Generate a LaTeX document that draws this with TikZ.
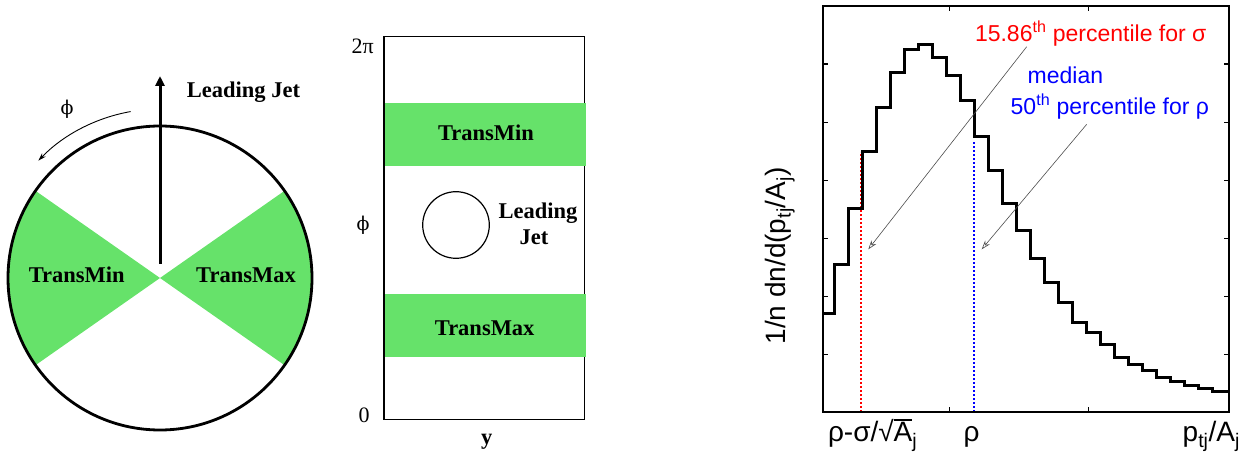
\documentclass[tikz,border=0pt]{standalone}
\usepackage{fontspec}
\setmainfont{Liberation Serif}
\newfontfamily\sansf{Liberation Sans}
\newfontfamily\dvserif{DejaVu Serif}
\usetikzlibrary{arrows.meta}
\definecolor{jetgreen}{RGB}{102,226,106}
\definecolor{medblue}{RGB}{0,0,255}
\definecolor{pctred}{RGB}{255,0,0}
\newcommand\ovA{\leavevmode\rlap{\rule[0.74em]{0.66em}{0.07em}}A}
\begin{document}
\begin{tikzpicture}[x=1pt,y=1pt,
  every node/.style={inner sep=0pt,outer sep=0pt},
  lbl/.style={font=\fontsize{22.5}{26}\selectfont\bfseries},
  ser/.style={font=\fontsize{22}{26}\selectfont},
  phis/.style={font=\dvserif\fontsize{19}{22}\selectfont},
  sfred/.style={font=\sansf\fontsize{23}{27}\selectfont,text=pctred},
  sfblue/.style={font=\sansf\fontsize{23}{27}\selectfont,text=medblue},
  axl/.style={font=\sansf\fontsize{28}{32}\selectfont},
  ann/.style={draw=black!70,line width=0.6pt,-{Stealth[open,length=9pt,width=6pt]}},
  tick/.style={line width=1.5pt}]
\useasboundingbox (0,0) rectangle (1256,464);

% ---------- left: circle ----------
\coordinate (c) at (160,186);
\fill[jetgreen] (c) -- ++(145:152) arc[start angle=145,end angle=215,radius=152] -- cycle;
\fill[jetgreen] (c) -- ++(-35:152) arc[start angle=-35,end angle=35,radius=152] -- cycle;
\draw[line width=2.8pt] (c) circle[radius=152];
\coordinate (a0) at (160,200);
\coordinate (a1) at (160,388);
\draw[line width=3pt,-{Triangle[length=10pt,width=9pt]}] (a0) -- (a1);
\node[lbl,anchor=base] (lj) at (243.5,366) {Leading Jet};
\node[lbl] (tmin) at (76.7,189) {TransMin};
\node[lbl] (tmax) at (246,189) {TransMax};
\node[phis] (phiL) at (67,355) {ϕ};
\coordinate (r0) at ([shift={(100:169)}]c);
\draw[line width=0.9pt,-{Stealth[length=8pt,width=5pt]}] (r0) arc[start angle=100,end angle=136,radius=169];

% ---------- middle: y-phi plane ----------
\draw[line width=1.5pt] (384,44.7) rectangle (584.3,427.3);
\fill[jetgreen] (384.8,298) rectangle (585.6,360.7);
\fill[jetgreen] (384.8,107.3) rectangle (585.6,170);
\node[lbl] (tmin2) at (486,330.7) {TransMin};
\node[lbl] (tmax2) at (484.7,135.7) {TransMax};
\draw[line width=1.2pt] (456,239) circle[radius=33.3];
\node[lbl,anchor=base] (lead2) at (538,245.7) {Leading};
\node[lbl,anchor=base] (jet2) at (534,219) {Jet};
\node[ser] (twopi) at (362.7,417.3) {2π};
\node[phis] (phiM) at (363,239) {ϕ};
\node[ser] (zero) at (364,49) {0};
\node[lbl] (yl) at (486.7,22) {y};

% ---------- right: histogram ----------
\draw[pctred,line width=2pt,dash pattern=on 2pt off 2pt] (861,52.3) -- (861,312.3);
\draw[medblue,line width=2pt,dash pattern=on 2pt off 2pt] (973.7,52.3) -- (973.7,324);
\draw[line width=2pt] (823.3,52.3) rectangle (1229,458);
\foreach \yy in {109.3,167.3,225.3,283.3,341.3,400}{
  \draw[tick] (823.3,\yy) -- ++(5,0);
  \draw[tick] (1229,\yy) -- ++(-5,0);}
\foreach \xx in {949.3,1088.7}{
  \draw[tick] (\xx,52.3) -- ++(0,5);
  \draw[tick] (\xx,458) -- ++(0,-5);}
\draw[line width=3pt,line join=miter] (823.3,150)
  -| (834,199) -| (848,255) -| (862,312.3) -| (876,356.7) -| (890,391.3)
  -| (904,414.7) -| (918,419.7) -| (932,406.3) -| (946,388) -| (960,363.3)
  -| (974,327.3) -| (988,293.7) -| (1002,260) -| (1016,233.3) -| (1030,205.7)
  -| (1044,181) -| (1058,161.7) -| (1072,141.7) -| (1086,131.7) -| (1100,119.7)
  -| (1114,106.7) -| (1128,99.7) -| (1142,94) -| (1156,87) -| (1170,82.3)
  -| (1184,78.3) -| (1198,75.7) -| (1212,72.3) -- (1229,72.3);

\node[sfred,anchor=base west] (pct) at (975,422.3) {15.86\textsuperscript{th} percentile for σ};
\node[sfblue,anchor=base west] (med) at (1027.7,380.7) {median};
\node[sfblue,anchor=base west] (p50) at (1010.7,349.7) {50\textsuperscript{th} percentile for ρ};
\coordinate (s1) at (1026.7,417.3);
\coordinate (t1) at (868.3,214.7);
\coordinate (s2) at (1086.7,339.7);
\coordinate (t2) at (981.7,214.7);
\draw[ann] (s1) -- (t1);
\draw[ann] (s2) -- (t2);

\node[axl,rotate=90,anchor=base] (ylab) at (785,208) {1/n dn/d(p\textsubscript{tj}/A\textsubscript{j})};
\node[axl,anchor=base west] (xl1) at (828,22.3) {ρ-σ/√\ovA\textsubscript{j}};
\node[axl,anchor=base] (xl2) at (971.7,22.3) {ρ};
\node[axl,anchor=base west] (xl3) at (1182.7,22.3) {p\textsubscript{tj}/A\textsubscript{j}};
\end{tikzpicture}
\end{document}
